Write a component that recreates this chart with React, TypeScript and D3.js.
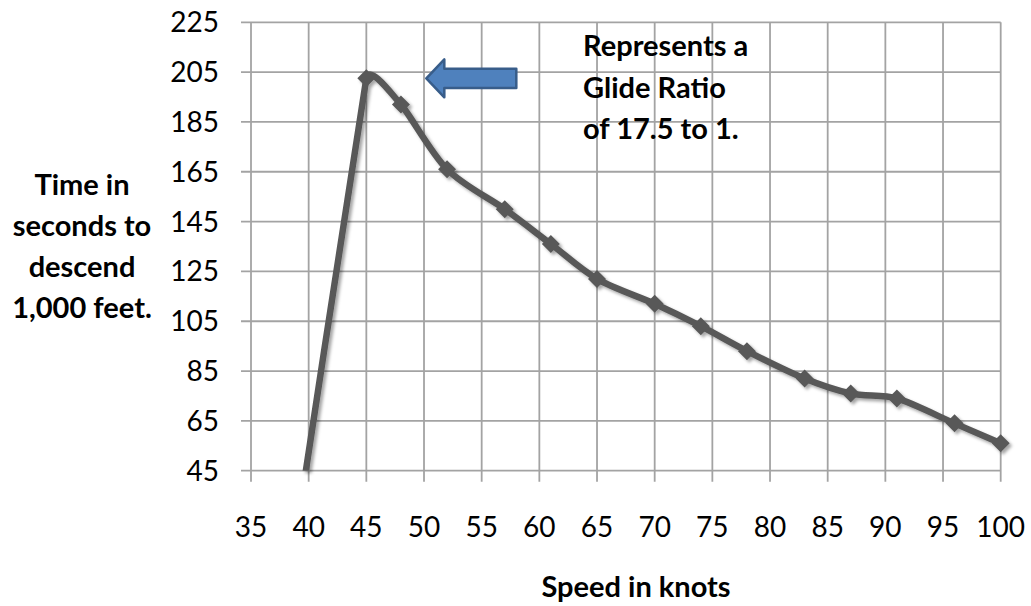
import React from 'react';
import * as d3 from 'd3';

// Glide performance: airspeed (knots) vs. seconds needed to sink 1,000 ft
const speedKnots = [39, 45, 48, 52, 57, 61, 65, 70, 74, 78, 83, 87, 91, 96, 100];
const descentSeconds = [22, 202.5, 192, 166, 150, 136, 122, 112, 103, 93, 82, 76, 74, 64, 56];

const xTickValues = [35, 40, 45, 50, 55, 60, 65, 70, 75, 80, 85, 90, 95, 100];
const yTickValues = [45, 65, 85, 105, 125, 145, 165, 185, 205, 225];

const xTitle = 'Speed in knots';
const yTitleLines = ['Time in', 'seconds to', 'descend', '1,000 feet.'];
const noteLines = ['Represents a', 'Glide Ratio', 'of 17.5 to 1.'];
// Arrow points at the best-glide level, starting just right of this speed
const notePointer = { speed: 50.2, seconds: 202.5 };

const W = 1031;
const H = 606;
const plot = { left: 251, right: 1000.7, top: 22.3, bottom: 470.7 };
const FONT = 'Lato, "Open Sans", sans-serif';
const GRID = '#a3a3a3';
const LINE = '#595959';

// Smoothed line in the spreadsheet style: tangent at each point follows its
// neighbours; control arms are a third of the shorter adjoining segment so
// long jumps stay straight.
function smoothPath(p: [number, number][]): string {
  const path = d3.path();
  const n = p.length;
  const segLen = (i: number) =>
    i < 0 || i >= n - 1 ? Infinity : Math.hypot(p[i + 1][0] - p[i][0], p[i + 1][1] - p[i][1]);
  const dirs = p.map((_, i) => {
    const a = p[Math.max(0, i - 1)];
    const b = p[Math.min(n - 1, i + 1)];
    const dx = b[0] - a[0];
    const dy = b[1] - a[1];
    const len = Math.hypot(dx, dy) || 1;
    return [dx / len, dy / len];
  });
  path.moveTo(p[0][0], p[0][1]);
  for (let i = 0; i < n - 1; i++) {
    const a = p[i];
    const b = p[i + 1];
    const seg = segLen(i);
    const armA = Math.min(seg, segLen(i - 1)) / 3;
    const armB = Math.min(seg, segLen(i + 1)) / 3;
    const c1 = [a[0] + dirs[i][0] * armA, a[1] + dirs[i][1] * armA];
    const c2 = [b[0] - dirs[i + 1][0] * armB, b[1] - dirs[i + 1][1] * armB];
    path.bezierCurveTo(c1[0], c1[1], c2[0], c2[1], b[0], b[1]);
  }
  return path.toString();
}

export default function App() {
  const x = d3.scaleLinear().domain([35, 100]).range([plot.left, plot.right]);
  const y = d3.scaleLinear().domain([45, 225]).range([plot.bottom, plot.top]);

  const pts: [number, number][] = speedKnots.map((k, i) => [k, descentSeconds[i]]);
  const pixelPts: [number, number][] = pts.map((d) => [x(d[0]), y(d[1])]);
  const linePath = smoothPath(pixelPts);

  const visible = pts.filter((d) => d[0] >= 35 && d[1] >= 45);
  const r = 9;
  const diamond = `M0,${-r}L${r},0L0,${r}L${-r},0Z`;

  // block arrow geometry
  const tipX = x(notePointer.speed);
  const tipY = y(notePointer.seconds);
  const headLen = 18;
  const headHalf = 19;
  const bodyHalf = 9.7;
  const tailX = tipX + 90;
  const arrow = [
    [tipX, tipY],
    [tipX + headLen, tipY - headHalf],
    [tipX + headLen, tipY - bodyHalf],
    [tailX, tipY - bodyHalf],
    [tailX, tipY + bodyHalf],
    [tipX + headLen, tipY + bodyHalf],
    [tipX + headLen, tipY + headHalf],
  ];
  const arrowPath = 'M' + arrow.map((p) => p.join(',')).join('L') + 'Z';

  return (
    <svg
      width={W}
      height={H}
      style={{ position: 'absolute', left: 0, top: 0, background: '#fff' }}
      fontFamily={FONT}
    >
      <defs>
        <filter id="soft-shadow" x="-20%" y="-20%" width="140%" height="140%">
          <feDropShadow dx="2.5" dy="2.5" stdDeviation="1.8" floodColor="#000" floodOpacity="0.35" />
        </filter>
        <clipPath id="plot-clip">
          <rect x={plot.left} y={0} width={W - plot.left} height={plot.bottom} />
        </clipPath>
      </defs>

      {/* horizontal grid with left tick stubs */}
      {yTickValues.map((v) => (
        <line key={'h' + v} x1={plot.left - 10} x2={plot.right} y1={y(v)} y2={y(v)} stroke={GRID} strokeWidth={1.8} />
      ))}
      {/* vertical grid with bottom tick stubs */}
      {xTickValues.map((v) => (
        <line key={'v' + v} x1={x(v)} x2={x(v)} y1={plot.top} y2={plot.bottom + 11} stroke={GRID} strokeWidth={1.8} />
      ))}

      {/* tick labels */}
      {yTickValues.map((v) => (
        <text key={'yl' + v} x={219} y={y(v) + 10} fontSize={28} textAnchor="end" fill="#000">
          {v}
        </text>
      ))}
      {xTickValues.map((v) => (
        <text key={'xl' + v} x={x(v)} y={536.5} fontSize={28} textAnchor="middle" fill="#000">
          {v}
        </text>
      ))}

      {/* axis titles */}
      <text x={636} y={597} fontSize={29} fontWeight={700} textAnchor="middle" fill="#000">
        {xTitle}
      </text>
      {yTitleLines.map((t, i) => (
        <text key={t} x={82} y={195 + i * 41} fontSize={29} fontWeight={700} textAnchor="middle" fill="#000">
          {t}
        </text>
      ))}

      {/* series */}
      <g filter="url(#soft-shadow)">
        <path d={linePath} fill="none" stroke={LINE} strokeWidth={6.5} strokeLinejoin="round" clipPath="url(#plot-clip)" />
        {visible.map((d) => (
          <path key={'m' + d[0]} d={diamond} transform={`translate(${x(d[0])},${y(d[1])})`} fill={LINE} />
        ))}
      </g>

      {/* annotation */}
      <path d={arrowPath} fill="#4f81bd" stroke="#385d8a" strokeWidth={2.5} strokeLinejoin="round" />
      {noteLines.map((t, i) => (
        <text key={t} x={583} y={56 + i * 41.5} fontSize={29} fontWeight={700} fill="#000">
          {t}
        </text>
      ))}
    </svg>
  );
}
